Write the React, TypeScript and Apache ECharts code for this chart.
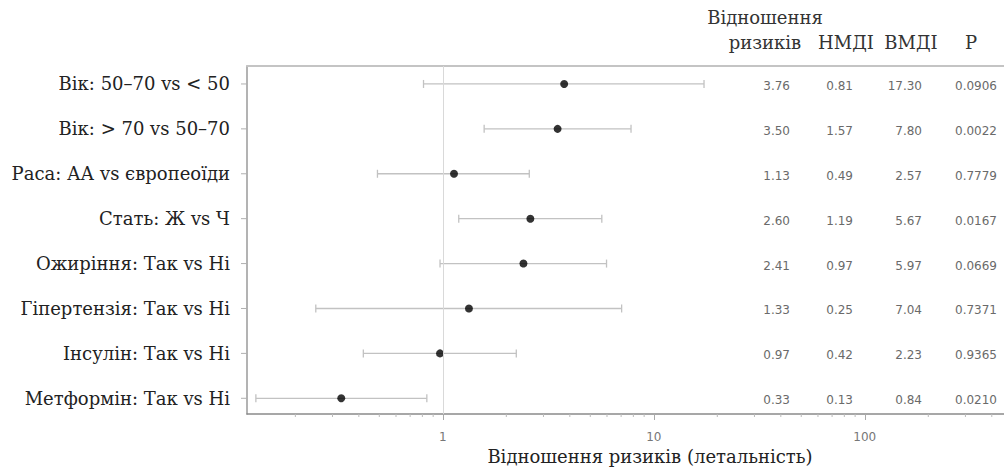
import React, { useEffect, useRef } from "react";
import * as echarts from "echarts";

const categories = [
  "Вік: 50–70 vs < 50",
  "Вік: > 70 vs 50–70",
  "Раса: АА vs європеоїди",
  "Стать: Ж vs Ч",
  "Ожиріння: Так vs Ні",
  "Гіпертензія: Так vs Ні",
  "Інсулін: Так vs Ні",
  "Метформін: Так vs Ні",
];
const hazardRatios = [3.76, 3.5, 1.13, 2.6, 2.41, 1.33, 0.97, 0.33];
const lowerCI = [0.81, 1.57, 0.49, 1.19, 0.97, 0.25, 0.42, 0.13];
const upperCI = [17.3, 7.8, 2.57, 5.67, 5.97, 7.04, 2.23, 0.84];
const pValues = ["0.0906", "0.0022", "0.7779", "0.0167", "0.0669", "0.7371", "0.9365", "0.0210"];
const tableHeaders = ["Відношення\nризиків", "НМДІ", "ВМДІ", "P"];
const minorTickValues = [
  0.2, 0.3, 0.4, 0.5, 0.6, 0.7, 0.8, 0.9,
  2, 3, 4, 5, 6, 7, 8, 9,
  20, 30, 40, 50, 60, 70, 80, 90,
  200, 300, 400,
];
const xAxisTitle = "Відношення ризиків (летальність)";

const SERIF = "'DejaVu Serif', 'Liberation Serif', serif";
const SANS = "'DejaVu Sans', sans-serif";

export default function App() {
  const ref = useRef<HTMLDivElement>(null);

  useEffect(() => {
    if (!ref.current) return;
    const chart = echarts.init(ref.current, undefined, { renderer: "svg" });

    const colRight = [790, 853, 922, 997];
    const headerX = [765, 846, 911, 971];

    const option: any = {
      animation: false,
      backgroundColor: "#ffffff",
      grid: { left: 247, top: 66, right: 0, bottom: 57, show: false },
      xAxis: [
        {
          type: "log",
          logBase: 10,
          min: 0.118,
          max: 457,
          position: "bottom",
          axisLine: { show: true, onZero: false, lineStyle: { color: "#8a8a8a", width: 1.5 } },
          axisTick: { show: true, length: 6, lineStyle: { color: "#aaaaaa" } },
          axisLabel: {
            show: true,
            showMinLabel: false,
            showMaxLabel: false,
            margin: 17,
            color: "#777777",
            fontFamily: SANS,
            fontSize: 12,
            formatter: (v: number) => {
              const l = Math.log10(v);
              return Math.abs(l - Math.round(l)) < 1e-6 ? String(Math.round(v)) : "";
            },
          },
          splitLine: { show: false },
          minorTick: { show: false },
        },
        {
          type: "value",
          position: "top",
          axisLine: { show: true, onZero: false, lineStyle: { color: "#c4c4c4", width: 2 } },
          axisTick: { show: false },
          axisLabel: { show: false },
          splitLine: { show: false },
        },
      ],
      yAxis: {
        type: "value",
        inverse: true,
        min: -0.4,
        max: 7.35,
        axisLine: { show: true, onZero: false, lineStyle: { color: "#9a9a9a", width: 1.5 } },
        axisTick: { show: false },
        axisLabel: { show: false },
        splitLine: { show: false },
      },
      graphic: [
        {
          type: "text",
          x: 650,
          y: 456,
          style: {
            text: xAxisTitle,
            align: "center",
            verticalAlign: "middle",
            fill: "#222222",
            fontFamily: SERIF,
            fontSize: 18,
          },
        },
        ...tableHeaders.map((h, k) => ({
          type: "text",
          x: headerX[k],
          y: 55,
          style: {
            text: h,
            align: "center",
            verticalAlign: "bottom",
            fill: "#333333",
            fontFamily: SERIF,
            fontSize: 18,
            lineHeight: 25,
          },
        })),
      ],
      series: [
        {
          type: "custom",
          name: "ci",
          xAxisIndex: 0,
          data: categories.map((_, i) => [lowerCI[i], i, upperCI[i]]),
          renderItem: (params: any, api: any) => {
            const a = api.coord([api.value(0), api.value(1)]);
            const b = api.coord([api.value(2), api.value(1)]);
            const st = { stroke: "#c2c2c2", lineWidth: 1.3 };
            return {
              type: "group",
              children: [
                { type: "line", shape: { x1: a[0], y1: a[1], x2: b[0], y2: b[1] }, style: st },
                { type: "line", shape: { x1: a[0], y1: a[1] - 4, x2: a[0], y2: a[1] + 4 }, style: st },
                { type: "line", shape: { x1: b[0], y1: b[1] - 4, x2: b[0], y2: b[1] + 4 }, style: st },
              ],
            };
          },
          z: 2,
        },
        {
          type: "scatter",
          name: "hr",
          xAxisIndex: 0,
          data: categories.map((_, i) => [hazardRatios[i], i]),
          symbol: "circle",
          symbolSize: 8,
          itemStyle: { color: "#000000" },
          z: 4,
          markLine: {
            silent: true,
            symbol: "none",
            label: { show: false },
            lineStyle: { color: "#d9d9d9", type: "solid", width: 1 },
            data: [{ xAxis: 1 }],
          },
        },
        {
          type: "custom",
          name: "labels",
          xAxisIndex: 0,
          data: categories.map((_, i) => [1, i]),
          renderItem: (params: any, api: any) => {
            const i = api.value(1);
            const y = api.coord([1, i])[1];
            const x0 = params.coordSys.x;
            return {
              type: "group",
              children: [
                {
                  type: "line",
                  shape: { x1: x0 - 6, y1: y, x2: x0, y2: y },
                  style: { stroke: "#b0b0b0", lineWidth: 1 },
                },
                {
                  type: "text",
                  style: {
                    x: x0 - 17,
                    y: y,
                    text: categories[i],
                    align: "right",
                    verticalAlign: "middle",
                    fill: "#222222",
                    fontFamily: SERIF,
                    fontSize: 18,
                  },
                },
              ],
            };
          },
        },
        {
          type: "custom",
          name: "table",
          xAxisIndex: 0,
          data: categories.map((_, i) => [1, i]),
          renderItem: (params: any, api: any) => {
            const i = api.value(1);
            const y = api.coord([1, i])[1] + 2;
            const vals = [
              hazardRatios[i].toFixed(2),
              lowerCI[i].toFixed(2),
              upperCI[i].toFixed(2),
              pValues[i],
            ];
            return {
              type: "group",
              children: vals.map((t, k) => ({
                type: "text",
                style: {
                  x: colRight[k],
                  y: y,
                  text: t,
                  align: "right",
                  verticalAlign: "middle",
                  fill: "#6a6a6a",
                  fontFamily: SANS,
                  fontSize: 12,
                },
              })),
            };
          },
        },
        {
          type: "custom",
          name: "minorTicks",
          xAxisIndex: 0,
          data: minorTickValues.map((v) => [v, 7]),
          renderItem: (params: any, api: any) => {
            const x = api.coord([api.value(0), 7])[0];
            const yb = params.coordSys.y + params.coordSys.height;
            return {
              type: "line",
              shape: { x1: x, y1: yb, x2: x, y2: yb + 3 },
              style: { stroke: "#bbbbbb", lineWidth: 1 },
            };
          },
        },
      ],
    };

    chart.setOption(option);
    return () => chart.dispose();
  }, []);

  return (
    <div
      ref={ref}
      style={{ position: "fixed", left: 0, top: 0, width: 1004, height: 471 }}
    />
  );
}
